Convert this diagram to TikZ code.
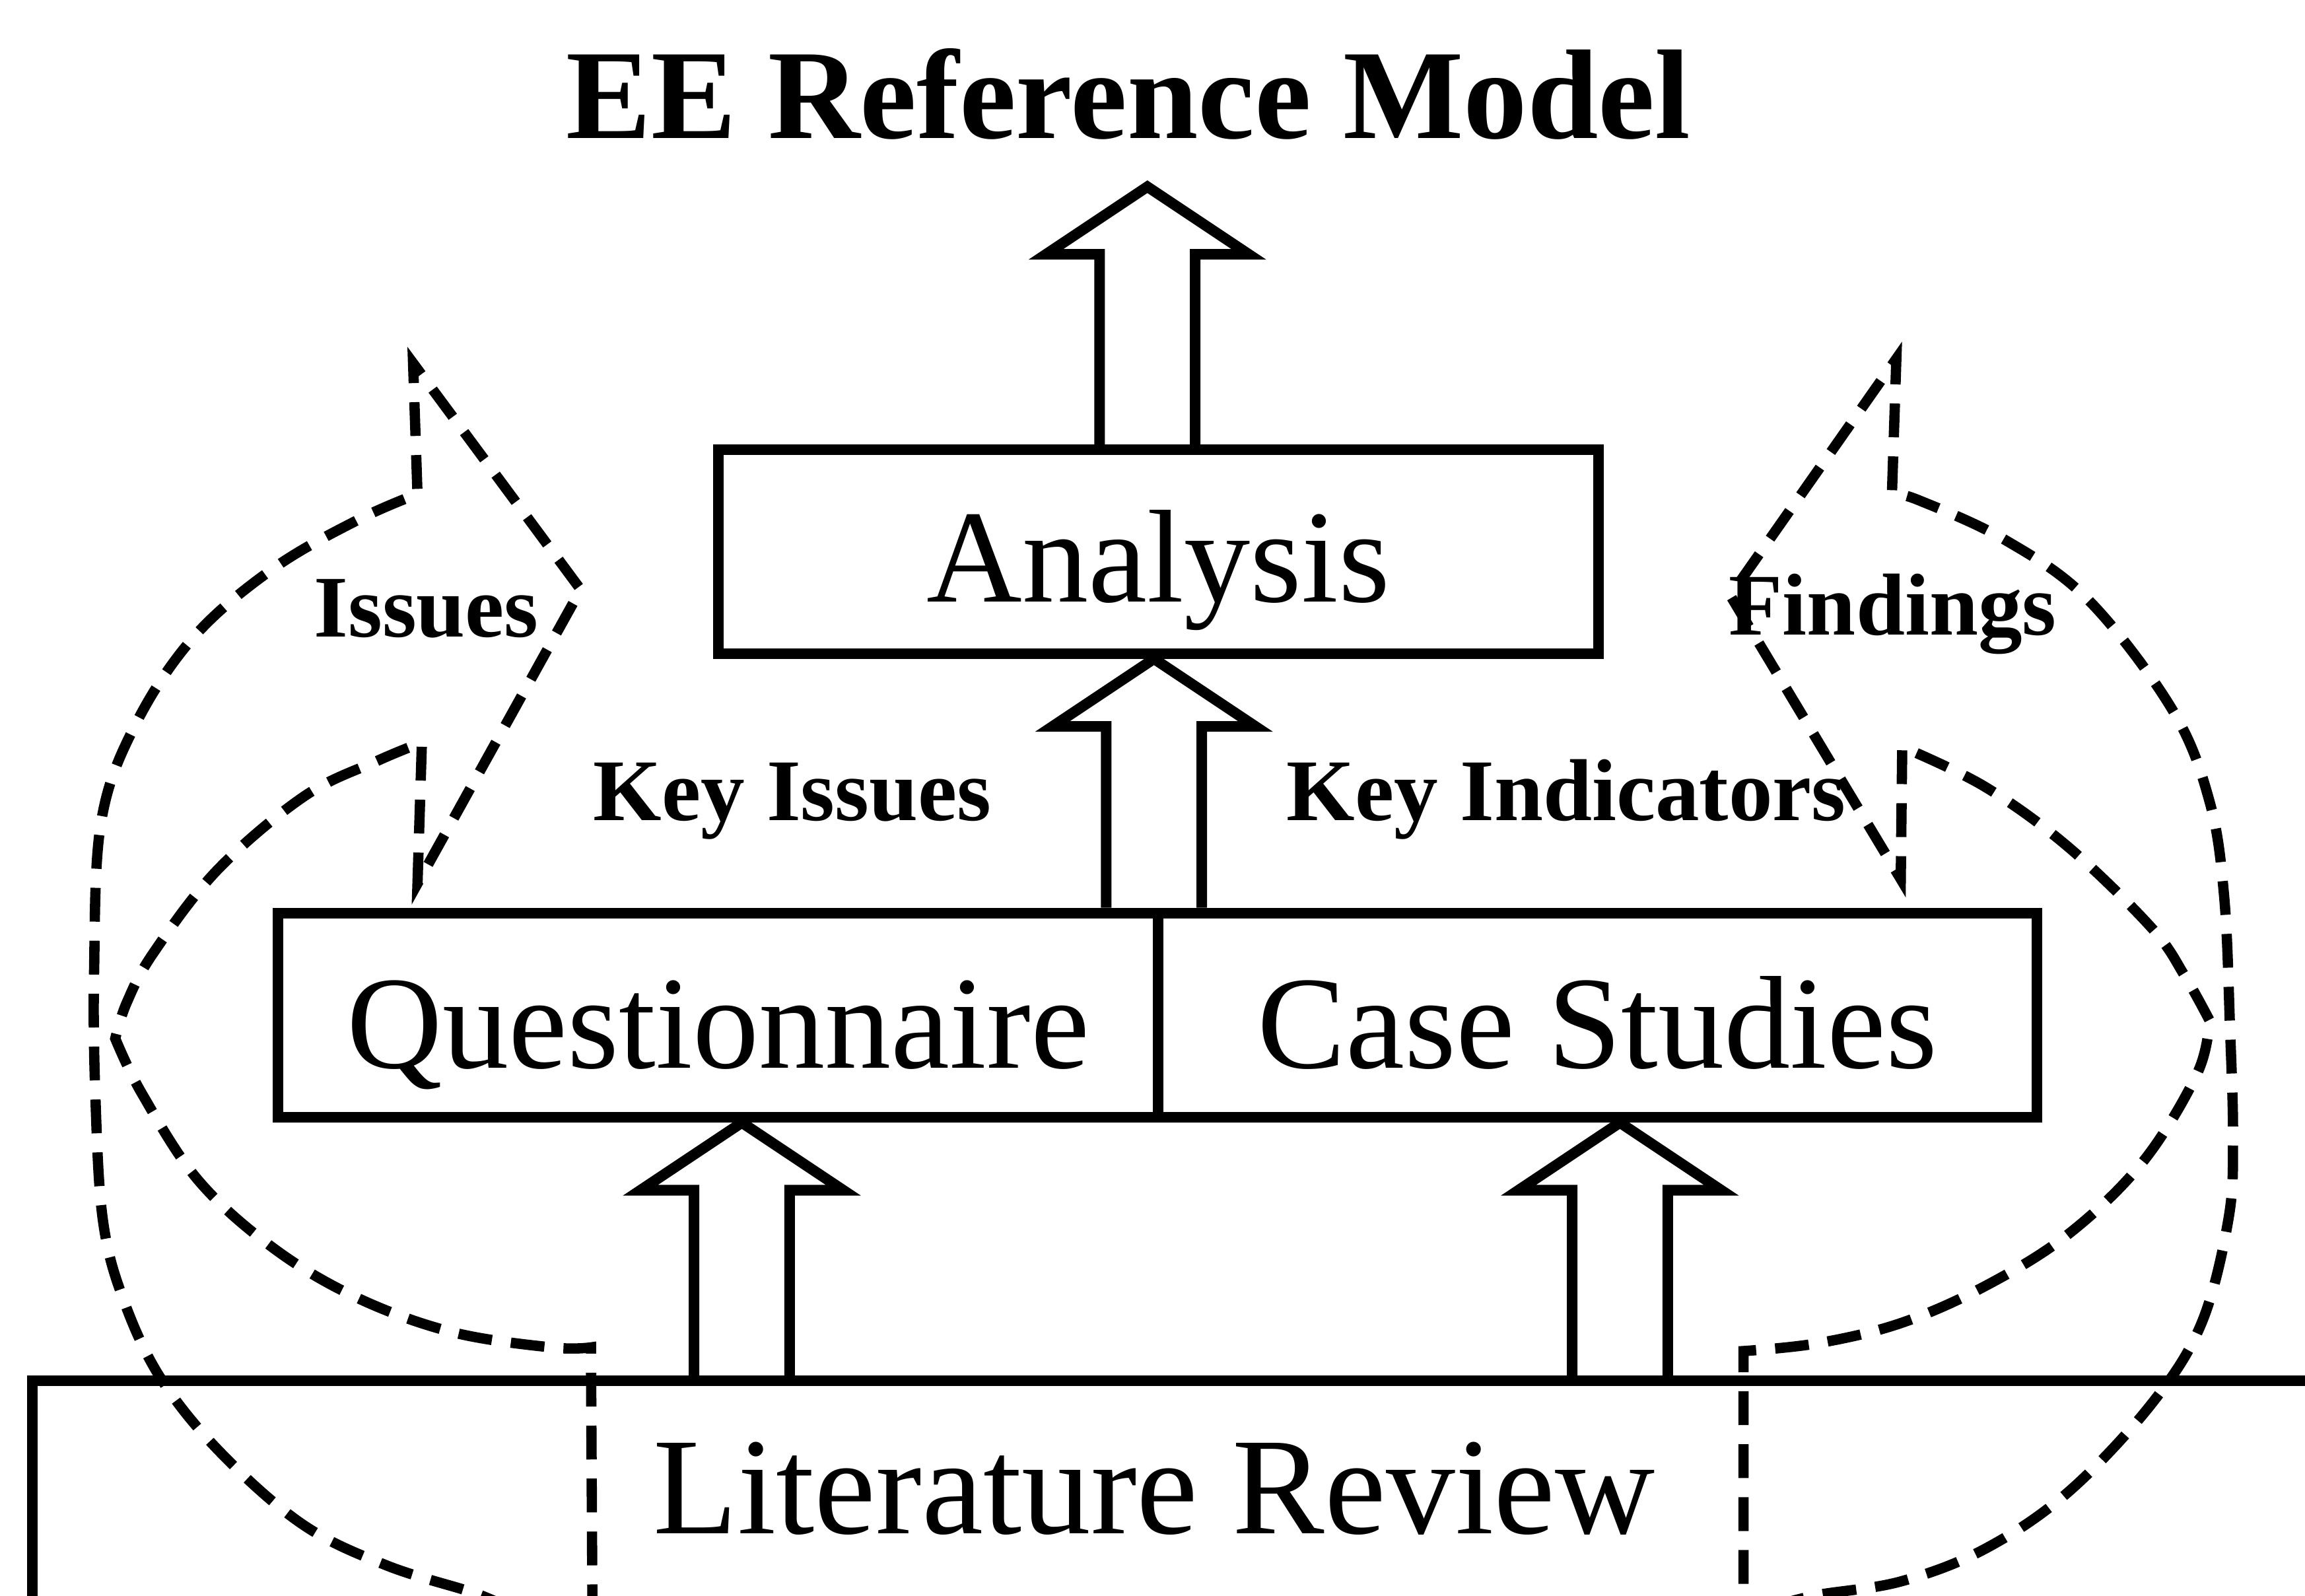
\documentclass[tikz,border=0pt]{standalone}
\usepackage{fontspec}
\setmainfont{Liberation Serif}
\usetikzlibrary{calc}

\newcommand\bigtxt{\fontsize{45}{50}\selectfont}
\newcommand\littxt{\fontsize{47}{52}\selectfont}
\newcommand\lbltxt{\fontsize{29.9}{32}\selectfont\bfseries}
\newcommand\ttltxt{\fontsize{43.4}{48}\selectfont\bfseries}

% hollow block arrow: #1 gives the tail height, #2 the tip
\newcommand\hollowarrow[2]{%
  \draw[outline] let \p1=(#1), \p2=(#2) in
    (\x2-16.25pt,\y1) -- (\x2-16.25pt,\y2-23pt) -- (\x2-34.5pt,\y2-23pt)
    -- (\x2,\y2) -- (\x2+34.5pt,\y2-23pt) -- (\x2+16.25pt,\y2-23pt)
    -- (\x2+16.25pt,\y1);}

\tikzset{
  outline/.style={line width=3.6pt, line join=miter},
  dashline/.style={line width=3.5pt, dash pattern=on 11.5pt off 6.5pt},
  boxnode/.style={draw, outline, inner sep=0pt, font=\bigtxt, text depth=0pt},
  lbl/.style={font=\lbltxt, anchor=base, inner sep=0pt},
}

\begin{document}
\begin{tikzpicture}[x=0.5pt, y=-0.5pt]
\useasboundingbox (0,0) rectangle (1568,1085.2);
\begin{scope}
\clip (0,0) rectangle (1568,1085.2);

% title
\node[font=\ttltxt, anchor=base, inner sep=0pt] (title) at (767.5,94) {EE Reference Model};

% boxes
\node[boxnode, minimum width=299.5pt, minimum height=69.25pt, text height=34.25pt]
  (ana) at (788,375.25) {Analysis};
\node[boxnode, minimum width=299.35pt, minimum height=69.5pt, text height=36pt]
  (ques) at (488.65,690.5) {Questionnaire};
\node[boxnode, minimum width=298.75pt, minimum height=69.5pt, text height=36pt]
  (cs) at (1086.75,690.5) {Case Studies};

% literature review box, open to the right and bottom
\node[inner sep=0pt, minimum width=820pt, minimum height=110pt, anchor=north west]
  (lit) at (22,939) {};
\draw[outline] (lit.north east) -- (lit.north west) -- (lit.south west);
\node[font=\littxt, anchor=base, inner sep=0pt] (littext) at (785,1043) {Literature Review};

% block arrows
\coordinate (upTip) at (780.5,127);
\coordinate (midTip) at ([xshift=-1.5pt]ana.south);
\coordinate (qTip) at ([xshift=8pt]ques.south);
\coordinate (cTip) at ([xshift=7.6pt]cs.south);
\hollowarrow{ana.north}{upTip}
\hollowarrow{ques.north}{midTip}
\hollowarrow{lit.north}{qTip}
\hollowarrow{lit.north}{cTip}

% left curved arrow (Issues)
\draw[dashline]
  plot[smooth, tension=0.6] coordinates {(348,1095) (324,1084) (263.5,1065) (206,1037)
     (150,988) (109,937) (83.6,883) (70,830) (65,749) (64,661) (68.7,559.6) (91.7,493.7)
     (131.8,433.3) (186,386.6) (243.5,353.6) (284,336)}
  -- (281,247) -- (395,401) -- (284,601) -- (287,505)
  -- plot[smooth, tension=0.6] coordinates {(287,505) (257,517.4) (207,541.6) (148,591.6)
     (104.2,648.4) (86.2,682) (78.4,706.4)}
  -- plot[smooth, tension=0.6] coordinates {(78.4,706.4) (96.5,743.8) (135,803)
     (186.7,849.5) (243.5,883) (308,906.2) (375,916.5) (402,916.5)}
  -- (403,1095);

% right curved arrow (Findings)
\draw[dashline]
  plot[smooth, tension=0.6] coordinates {(1205,1093) (1236,1085) (1293,1075.7) (1350,1053.7)
     (1406.8,1015) (1463.5,955) (1497.6,900) (1516,828.6) (1519,773.7) (1517,700)
     (1513,610) (1503,545) (1477.7,482.7) (1421,408.5) (1364.2,367.4) (1304.6,340) (1287,336)}
  -- (1290,244) -- (1177,405) -- (1293,598) -- (1294,508)
  -- plot[smooth, tension=0.6] coordinates {(1294,508) (1350,535) (1406.8,576)
     (1463.5,631) (1486.3,664) (1503,694)}
  -- plot[smooth, tension=0.6] coordinates {(1503,694) (1494.8,729.8) (1457.9,790)
     (1406.8,839.6) (1350,875) (1293,900) (1236.4,913.7) (1186,919)}
  -- (1186,1095);

% labels
\node[lbl] (issues) at (290,433) {Issues};
\node[lbl] (keyiss) at (539,558) {Key Issues};
\node[lbl] (keyind) at (1065.5,558) {Key Indicators};
\node[lbl] (find) at (1287.5,432) {Findings};
\end{scope}
\end{tikzpicture}
\end{document}
